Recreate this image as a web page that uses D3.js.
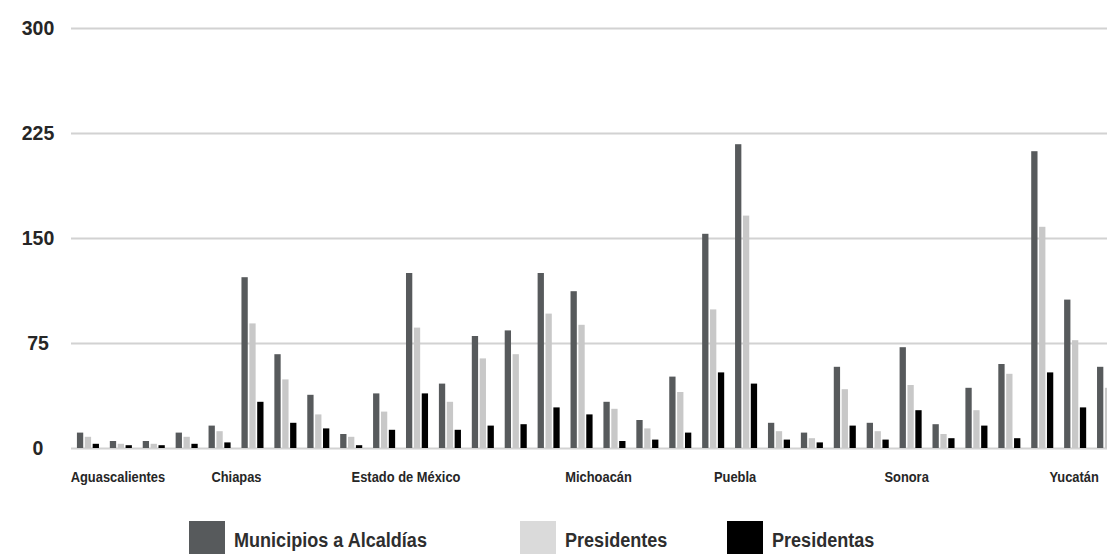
<!DOCTYPE html>
<html>
<head>
<meta charset="utf-8">
<script src="https://cdn.jsdelivr.net/npm/d3@7"></script>
<style>
  body { margin: 0; background: #fff; }
  svg { display: block; }
</style>
</head>
<body>
<svg id="chart" width="1107" height="554"></svg>
<script>
// Mexican states, in the order they are plotted
const states = [
  "Aguascalientes", "Baja California", "Baja California Sur", "Campeche",
  "CDMX", "Chiapas", "Chihuahua", "Coahuila", "Colima", "Durango",
  "Estado de México", "Guanajuato", "Guerrero", "Hidalgo", "Jalisco",
  "Michoacán", "Morelos", "Nayarit", "Nuevo León", "Oaxaca", "Puebla",
  "Querétaro", "Quintana Roo", "San Luis Potosí", "Sinaloa", "Sonora",
  "Tabasco", "Tamaulipas", "Tlaxcala", "Veracruz", "Yucatán", "Zacatecas"
];

// Number of municipalities / alcaldías per state
const municipios = [11, 5, 5, 11, 16, 122, 67, 38, 10, 39, 125, 46, 80, 84, 125,
  112, 33, 20, 51, 153, 217, 18, 11, 58, 18, 72, 17, 43, 60, 212, 106, 58];

// Municipal presidents (men)
const presidentes = [8, 3, 3, 8, 12, 89, 49, 24, 8, 26, 86, 33, 64, 67, 96,
  88, 28, 14, 40, 99, 166, 12, 7, 42, 12, 45, 10, 27, 53, 158, 77, 43];

// Municipal presidents (women)
const presidentas = [3, 2, 2, 3, 4, 33, 18, 14, 2, 13, 39, 13, 16, 17, 29,
  24, 5, 6, 11, 54, 46, 6, 4, 16, 6, 27, 7, 16, 7, 54, 29, 15];

const seriesNames = ["Municipios a Alcaldías", "Presidentes", "Presidentas"];
const yTicks = [0, 75, 150, 225, 300];
const xTickLabels = ["Aguascalientes", "Chiapas", "Estado de México",
  "Michoacán", "Puebla", "Sonora", "Yucatán"];

// ---- styling / layout ----
const W = 1107;
const barColors = ["#575a5c", "#c8c8c8", "#000000"];
const swatchColors = ["#575a5c", "#dadada", "#000000"];
const labelNudge = {
  "Aguascalientes": 30, "Chiapas": -16, "Estado de México": -11,
  "Michoacán": 17, "Puebla": -11, "Sonora": -4, "Yucatán": -1
};
const legendX = [189, 520, 727];
const FONT = "'Liberation Sans', Arial, sans-serif";
const NARROW = 0.86;   // horizontal squeeze for the condensed label face

const rows = states.map((s, i) => ({
  state: s,
  values: [municipios[i], presidentes[i], presidentas[i]]
}));

const svg = d3.select("#chart");

const x0 = d3.scaleBand()
  .domain(states)
  .range([71, 1125])
  .paddingInner(0.33)
  .paddingOuter(0.18);

const x1 = d3.scaleBand()
  .domain(d3.range(seriesNames.length))
  .range([0, x0.bandwidth()])
  .paddingInner(0.2);

const y = d3.scaleLinear().domain([0, 300]).range([448, 28]);

// horizontal gridlines
const grid = svg.append("g")
  .attr("transform", "translate(71,0)")
  .call(d3.axisRight(y).tickValues(yTicks).tickSize(W - 71).tickFormat(""));
grid.select(".domain").remove();
grid.selectAll(".tick line")
  .attr("stroke", "#d2d2d2")
  .attr("stroke-width", 2);

// y tick labels
svg.append("g")
  .selectAll("text")
  .data(yTicks)
  .join("text")
  .attr("x", 38)
  .attr("y", d => y(d) + 7)
  .attr("text-anchor", "middle")
  .attr("font-family", FONT)
  .attr("font-weight", "bold")
  .attr("font-size", 19.5)
  .attr("fill", "#262626")
  .text(d => d);

// grouped bars
const groups = svg.append("g")
  .selectAll("g")
  .data(rows)
  .join("g")
  .attr("transform", d => `translate(${x0(d.state)},0)`);

groups.selectAll("rect")
  .data(d => d.values.map((v, k) => ({ k, v })))
  .join("rect")
  .attr("x", d => x1(d.k))
  .attr("width", x1.bandwidth())
  .attr("y", d => y(d.v))
  .attr("height", d => y(0) - y(d.v))
  .attr("fill", d => barColors[d.k]);

// category labels
svg.append("g")
  .selectAll("g")
  .data(xTickLabels)
  .join("g")
  .attr("transform", d =>
    `translate(${x0(d) + x0.bandwidth() / 2 + (labelNudge[d] || 0)},482) scale(${NARROW},1)`)
  .append("text")
  .attr("text-anchor", "middle")
  .attr("font-family", FONT)
  .attr("font-weight", "bold")
  .attr("font-size", 15)
  .attr("fill", "#262626")
  .text(d => d);

// legend
const legend = svg.append("g")
  .selectAll("g")
  .data(seriesNames)
  .join("g")
  .attr("transform", (d, i) => `translate(${legendX[i]},521)`);

legend.append("rect")
  .attr("width", 36)
  .attr("height", 36)
  .attr("fill", (d, i) => swatchColors[i]);

legend.append("g")
  .attr("transform", `translate(45,26) scale(${NARROW},1)`)
  .append("text")
  .attr("font-family", FONT)
  .attr("font-weight", "bold")
  .attr("font-size", 21)
  .attr("fill", "#2e2e2e")
  .text(d => d);
</script>
</body>
</html>
